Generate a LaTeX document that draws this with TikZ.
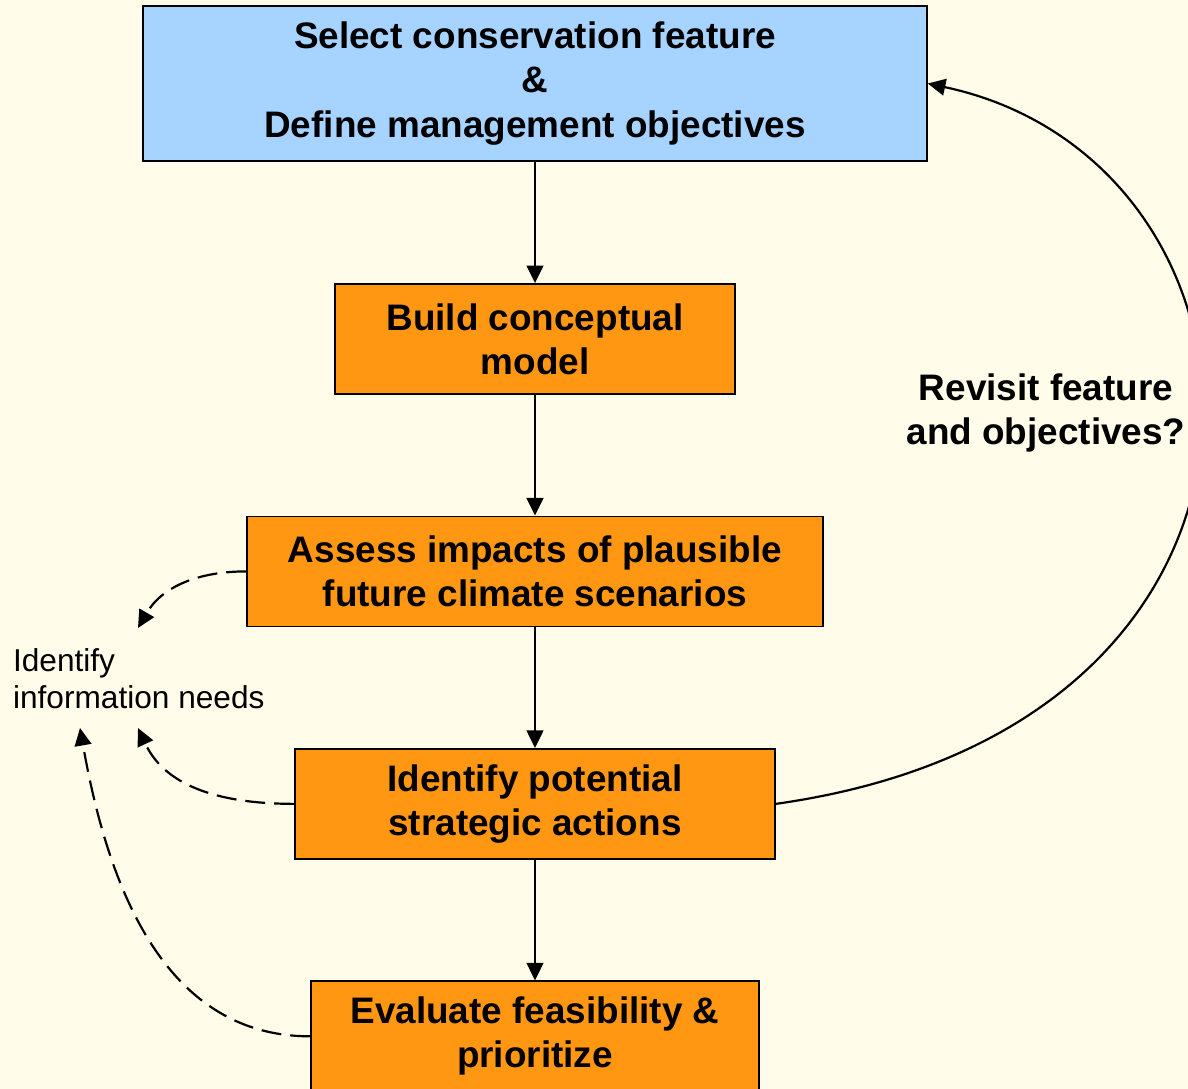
\documentclass[tikz,border=0pt]{standalone}
\usepackage{fontspec}
\setmainfont{Liberation Sans}
\usetikzlibrary{positioning,arrows.meta}
\definecolor{paper}{RGB}{255,252,234}
\definecolor{goalblue}{RGB}{166,211,255}
\definecolor{taskorange}{RGB}{255,151,18}
\tikzset{
  goal/.style={draw, fill=goalblue, line width=1pt, inner sep=0pt,
    minimum width=15.68cm, minimum height=3.1cm, align=center,
    font=\fontsize{21}{25.5}\selectfont\bfseries},
  task/.style={draw, fill=taskorange, line width=1pt, inner sep=0pt,
    minimum height=2.2cm, align=center,
    font=\fontsize{21}{25}\selectfont\bfseries},
  needs/.style={dash pattern=on 0.4cm off 0.18cm}
}

\begin{document}
\begin{tikzpicture}[x=0.02cm,y=-0.02cm,node distance=4.65cm,on grid,
    >={Triangle[length=10pt,width=9.5pt]},line width=1.25pt]
   \useasboundingbox[fill=paper] (0,0) rectangle (1188,1089);

   \node[goal] (select) at (535,83.5) {Select conservation feature\\\&\\Define management objectives};
   \node[task,minimum width=8cm] (build) [below=5.11cm of select] {Build conceptual\\model};
   \node[task,minimum width=11.52cm] (assess) [below=of build] {Assess impacts of plausible\\future climate scenarios};
   \node[task,minimum width=9.6cm] (ident) [below=of assess] {Identify potential\\strategic actions};
   \node[task,minimum width=8.96cm] (eval) [below=of ident] {Evaluate feasibility \&\\prioritize};

   \node[align=center,font=\fontsize{21}{25.5}\selectfont\bfseries] (revisit) at (1046,413) {Revisit feature\\and objectives?};
   \node[align=left,anchor=west,inner sep=0pt,font=\fontsize{18}{21}\selectfont] (info) at (12,679) {Identify\\information needs};

   \coordinate (need1) at (138,628);
   \coordinate (need2) at (138,728);
   \coordinate (need3) at (80,728);

    \path[->]
    (select) edge (build)
    (build)  edge (assess)
    (assess) edge (ident)
    (ident)  edge (eval)
    (ident.east) edge [out=8,in=-12,out distance=11.3cm,in distance=7.5cm] (select.east);

    \path[->,needs]
    (assess.west) edge [out=180,in=60] (need1)
    (ident.west)  edge [out=180,in=-65] (need2)
    (eval.west)   edge [out=180,in=-80] (need3);
\end{tikzpicture}
\end{document}
